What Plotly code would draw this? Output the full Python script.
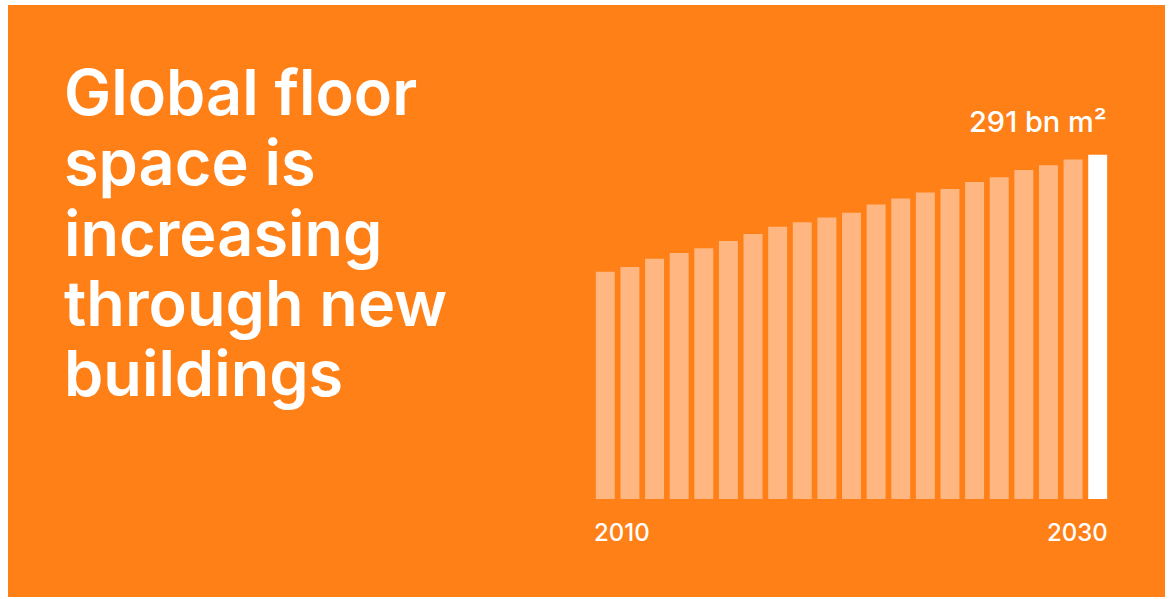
import plotly.graph_objects as go

# Global floor space, billion m², 2010-2030
years = list(range(2010, 2031))
floor_space = [192, 196, 203, 208, 212, 218, 224, 230, 234, 238, 242,
               249, 254, 259, 262, 268, 272, 278, 282, 287, 291]
title_lines = ["Global floor", "space is", "increasing", "through new", "buildings"]
value_label = "291 bn m²"
axis_labels = ["2010", "2030"]

BG = "#FE8017"
BAR = "#FFB680"
HIGHLIGHT = "#FFFFFF"
FONT = "Inter"

W, H = 1172, 599
ML, MR, MT, MB = 593, 62, 140, 100
PW, PH = W - ML - MR, H - MT - MB


def px(x):
    return (x - ML) / PW


def py(y):
    return (H - MB - y) / PH


idx = list(range(len(years)))
colors = [BAR] * (len(years) - 1) + [HIGHLIGHT]

fig = go.Figure(go.Bar(
    x=idx, y=floor_space, marker=dict(color=colors, line=dict(width=0)),
    hoverinfo="skip",
))

shapes = [dict(type="rect", xref="paper", yref="paper", layer="below",
               x0=px(8), x1=px(1165), y0=py(597), y1=py(5),
               fillcolor=BG, line=dict(width=0))]

annotations = []
# Headline, one annotation per line
for i, line in enumerate(title_lines):
    annotations.append(dict(
        text=line, xref="paper", yref="paper", x=px(62), y=py(92 + i * 70.3),
        xanchor="left", yanchor="middle", showarrow=False,
        font=dict(family=FONT, size=63, color="white", weight=600),
    ))

half = 0.385
annotations.append(dict(
    text=axis_labels[0], xref="x", yref="paper", x=idx[0] - half, y=py(532),
    xanchor="left", yanchor="middle", xshift=-4, showarrow=False,
    font=dict(family=FONT, size=24, color="white", weight=500),
))
annotations.append(dict(
    text=axis_labels[1], xref="x", yref="paper", x=idx[-1] + half, y=py(532),
    xanchor="right", yanchor="middle", xshift=3, showarrow=False,
    font=dict(family=FONT, size=24, color="white", weight=500),
))
annotations.append(dict(
    text=value_label, xref="x", yref="y", x=idx[-1] + half, y=floor_space[-1],
    xanchor="right", yanchor="bottom", yshift=14, xshift=2, showarrow=False,
    font=dict(family=FONT, size=29, color="white", weight=500),
))

fig.update_layout(
    width=W, height=H,
    margin=dict(l=ML, r=MR, t=MT, b=MB, pad=0),
    paper_bgcolor="white", plot_bgcolor="rgba(0,0,0,0)",
    bargap=0.23, showlegend=False,
    xaxis=dict(range=[-0.5, 20.5], visible=False, fixedrange=True),
    yaxis=dict(range=[0, 291 * PH / 344.3], visible=False, fixedrange=True),
    shapes=shapes, annotations=annotations,
)

fig.write_html("out.html", config={"displayModeBar": False})
